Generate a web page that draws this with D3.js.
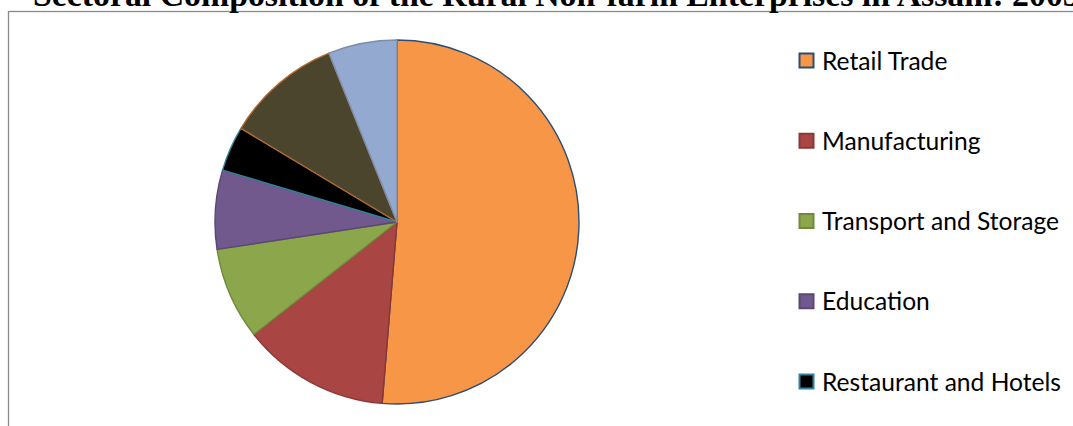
<!DOCTYPE html>
<html>
<head>
<meta charset="utf-8">
<script src="https://cdn.jsdelivr.net/npm/d3@7"></script>
<style>
  html, body { margin: 0; padding: 0; background: #fff; overflow: hidden; }
  svg { display: block; }
</style>
</head>
<body>
<svg id="chart" width="1073" height="426"></svg>
<script>
// Share of rural non-farm enterprises by sector (%)
const sectors = ["Retail Trade", "Manufacturing", "Transport and Storage", "Education",
                 "Restaurant and Hotels", "Other Services", "Others"];
const shares = [51.3, 13.1, 8.2, 7.0, 4.0, 10.3, 6.1];
const fills = ["#f79646", "#a94542", "#8ca64c", "#71598e", "#000000", "#4a452c", "#93a9d0"];
const edges = ["#2c4d75", "#8a3836", "#71893e", "#5b4775", "#31849b", "#b8672c", "#7b8ea8"];
const titleText = "Sectoral Composition of the Rural Non-farm Enterprises in Assam: 2005";

const svg = d3.select("#chart");

// chart frame (runs past the right and bottom of the view)
svg.append("rect")
  .attr("x", 8.5).attr("y", 11.5)
  .attr("width", 1200).attr("height", 600)
  .attr("fill", "#fff")
  .attr("stroke", "#898989").attr("stroke-width", 1.3);

svg.append("text")
  .attr("x", 33).attr("y", 5.5)
  .attr("font-family", "Liberation Serif, serif")
  .attr("font-weight", "bold")
  .attr("font-size", 33.8)
  .attr("fill", "#000")
  .text(titleText);

const cx = 397, cy = 222, r = 182;
const pie = d3.pie().sort(null).value(d => d.v)
  .startAngle(0).endAngle(2 * Math.PI);
const arc = d3.arc().innerRadius(0).outerRadius(r);
const data = sectors.map((s, i) => ({ s, v: shares[i], i }));

svg.append("g")
  .attr("transform", `translate(${cx},${cy})`)
  .selectAll("path")
  .data(pie(data))
  .join("path")
  .attr("d", arc)
  .attr("fill", d => fills[d.data.i])
  .attr("stroke", d => edges[d.data.i])
  .attr("stroke-width", 1.4)
  .attr("stroke-linejoin", "round");

// legend, one entry per sector
const legY = d3.scaleLinear().domain([0, 1]).range([61, 141.25]);
const leg = svg.append("g")
  .selectAll("g")
  .data(data)
  .join("g")
  .attr("transform", d => `translate(799,${legY(d.i)})`);

leg.append("rect")
  .attr("x", 0.5).attr("y", -7.5)
  .attr("width", 14).attr("height", 14)
  .attr("fill", d => fills[d.i])
  .attr("stroke", d => edges[d.i])
  .attr("stroke-width", 2);

leg.append("text")
  .attr("x", 23).attr("y", 8.5)
  .attr("font-family", "Lato, sans-serif")
  .attr("font-size", 24.6)
  .attr("fill", "#000")
  .text(d => d.s);
</script>
</body>
</html>
